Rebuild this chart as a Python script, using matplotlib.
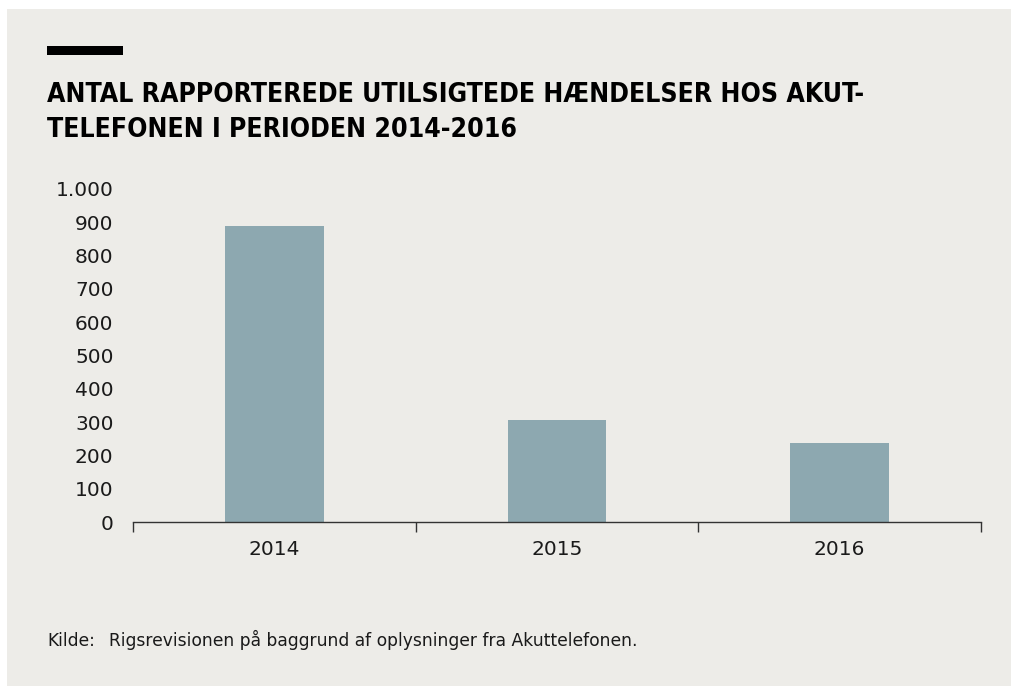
import matplotlib.pyplot as plt
from matplotlib.patches import Rectangle
from matplotlib.ticker import FuncFormatter

# data
years = ["2014", "2015", "2016"]
events = [888, 307, 237]
y_ticks = list(range(0, 1001, 100))

title_lines = ["ANTAL RAPPORTEREDE UTILSIGTEDE HÆNDELSER HOS AKUT-",
               "TELEFONEN I PERIODEN 2014-2016"]
source_label = "Kilde:"
source_text = "Rigsrevisionen på baggrund af oplysninger fra Akuttelefonen."

BG = "#edece8"
BAR = "#8da8b0"
W, H = 1012, 686


def fx(px):
    return px / W


def fy(py):
    return 1 - py / H


fig = plt.figure(figsize=(W / 100, H / 100), dpi=100, facecolor="white")

# grey panel and the black accent bar
fig.patches.append(Rectangle((fx(7), 0), 1, fy(9), transform=fig.transFigure,
                             facecolor=BG, edgecolor="none", zorder=-2))
fig.patches.append(Rectangle((fx(47), fy(55)), fx(123) - fx(47), fy(46) - fy(55),
                             transform=fig.transFigure, facecolor="black",
                             edgecolor="none", zorder=-1))

t1 = fig.text(fx(47), fy(102), title_lines[0], fontsize=20, fontweight="bold",
              fontstretch="condensed", va="baseline", ha="left")
t2 = fig.text(fx(47), fy(137), title_lines[1], fontsize=20, fontweight="bold",
              fontstretch="condensed", va="baseline", ha="left")

# fit first title line to the width seen in the reference (~818 px)
renderer = fig.canvas.get_renderer()
w = t1.get_window_extent(renderer).width
size = 20 * 818 / w
t1.set_fontsize(size)
t2.set_fontsize(size)

ax = fig.add_axes([fx(133), fy(522), fx(981) - fx(133), fy(189) - fy(522)])
ax.set_facecolor("none")

pos = [i + 0.5 for i in range(len(years))]
ax.bar(pos, events, width=0.35, color=BAR)

ax.set_xlim(0, len(years))
ax.set_ylim(0, 1000)
ax.set_yticks(y_ticks)
ax.yaxis.set_major_formatter(FuncFormatter(lambda v, _: f"{int(v):,}".replace(",", ".")))
ax.tick_params(axis="y", length=0, pad=14, labelsize=14.5, labelcolor="#1a1a1a")

ax.set_xticks(range(len(years) + 1))
ax.set_xticklabels([])
ax.set_xticks(pos, minor=True)
ax.set_xticklabels(years, minor=True)
ax.tick_params(axis="x", which="major", length=7, width=1, color="#333333", direction="out")
ax.tick_params(axis="x", which="minor", length=0, pad=13, labelsize=14.5, labelcolor="#1a1a1a")

for s in ["left", "top", "right"]:
    ax.spines[s].set_visible(False)
ax.spines["bottom"].set_color("#333333")
ax.spines["bottom"].set_linewidth(1)

fig.text(fx(47), fy(646), source_label, fontsize=12.3, va="baseline", ha="left", color="#1a1a1a")
fig.text(fx(109), fy(646), source_text, fontsize=12.3, va="baseline", ha="left", color="#1a1a1a")

fig.savefig("out.png", dpi=100, facecolor=fig.get_facecolor())
